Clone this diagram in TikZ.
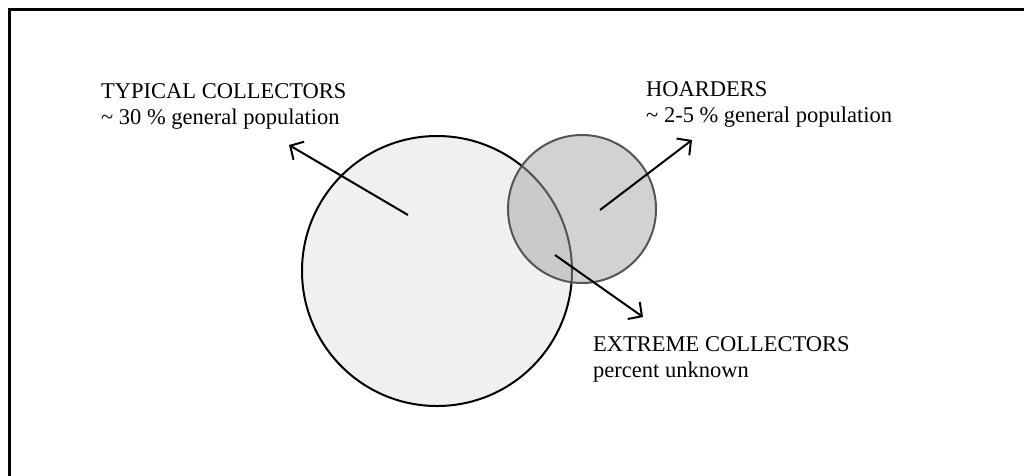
\documentclass[tikz,border=0pt]{standalone}
\usepackage{fontspec}
\setmainfont{Liberation Serif}
\usepackage{xcolor}
\usetikzlibrary{
    arrows.meta,
    positioning
}
\definecolor{lightfill}{HTML}{F0F0F0}
\definecolor{ringgray}{HTML}{555555}

\begin{document}
\begin{tikzpicture}[x=1pt, y=-1pt,
    labeltext/.style={anchor=base west, align=left, inner sep=0pt, font=\fontsize{22.5}{26}\selectfont},
    pointer/.style={line width=2pt, -{Straight Barb[length=10pt, width=21pt]}}]
    \useasboundingbox (0, 0) rectangle (1024, 475);
    \clip (0, 0) rectangle (1024, 475);
    \draw[line width=2.5pt] (9.5, 9.5) rectangle (1040, 490);
    \node[circle, draw, line width=2pt, fill=lightfill, minimum size=270pt, inner sep=0pt] (typical) at (437, 271) {};
    \node[circle, draw=ringgray, line width=2pt, fill=black!35, fill opacity=0.5, minimum size=148pt, inner sep=0pt] (hoarders) at (582, 209) {};
    \node[labeltext] (typicaltext) at (101, 124) {TYPICAL COLLECTORS\\\textasciitilde{} 30 \% general population};
    \node[labeltext] (hoardertext) at (646, 122) {HOARDERS\\\textasciitilde{} 2-5 \% general population};
    \node[labeltext] (extremetext) at (593, 377) {EXTREME COLLECTORS\\percent unknown};
    \coordinate (typicalfrom) at (408, 215);
    \coordinate (typicalto) at (289, 145);
    \coordinate (hoarderfrom) at (600, 210);
    \coordinate (hoarderto) at (692, 140);
    \coordinate (extremefrom) at (555, 255);
    \coordinate (extremeto) at (643, 317);
    \draw[pointer] (typicalfrom) -- (typicalto);
    \draw[pointer] (hoarderfrom) -- (hoarderto);
    \draw[pointer] (extremefrom) -- (extremeto);
\end{tikzpicture}
\end{document}
